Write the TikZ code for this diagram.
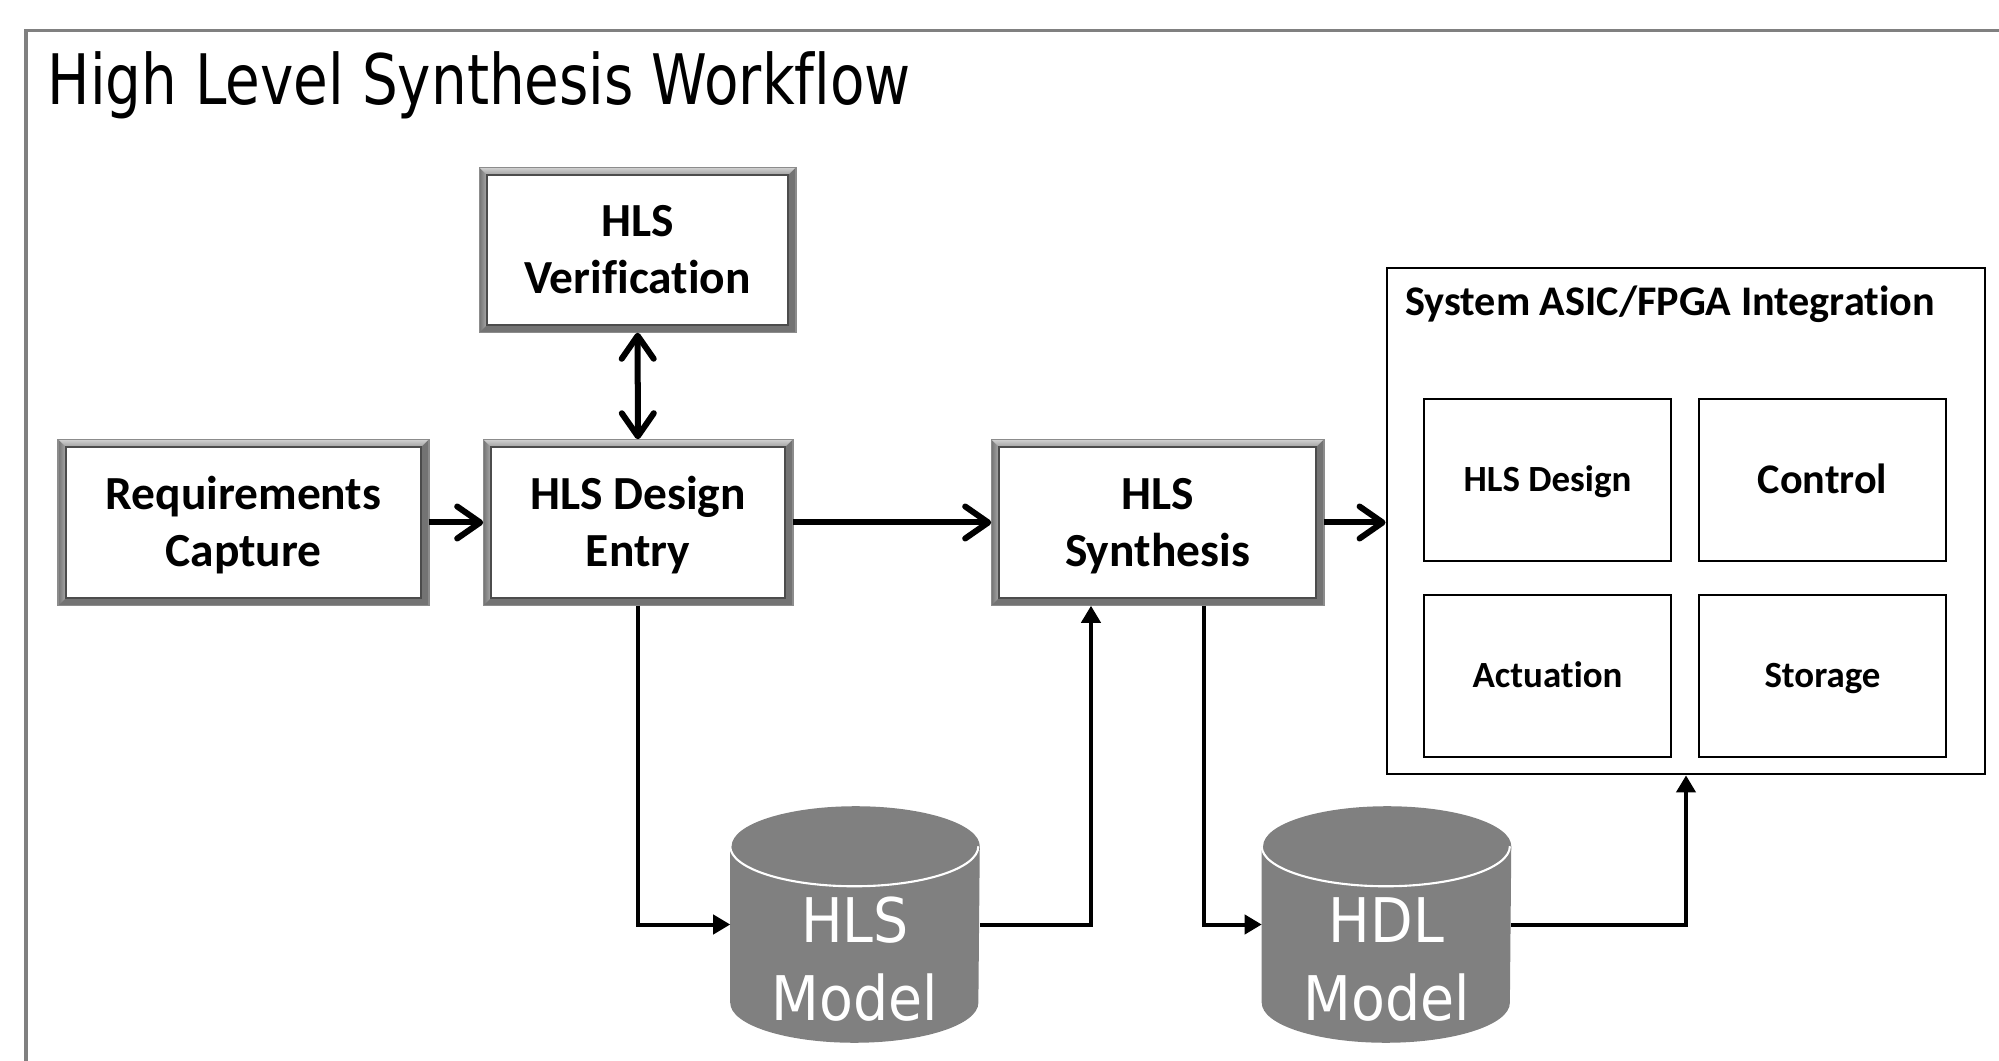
\documentclass[tikz,border=0pt]{standalone}
\usepackage{fontspec}
\setmainfont[Ligatures=NoCommon]{Carlito}
\newfontfamily\titlefont[FakeStretch=0.81, Ligatures=NoCommon]{DejaVu Sans}
\newfontfamily\dbfont[FakeStretch=0.9]{DejaVu Sans}
\usetikzlibrary{arrows.meta,backgrounds,calc}
\def\bev{0.08cm}

\begin{document}
\begin{tikzpicture}[x=0.01cm, y=-0.01cm,
    stage/.style={inner sep=0pt, minimum height=1.65cm, align=center, text height=24.9pt, text depth=0pt,
      font=\bfseries\fontsize{13.5}{16.2}\selectfont},
    part/.style={draw, line width=0.6pt, inner sep=0pt, minimum width=2.47cm, minimum height=1.62cm,
      text height=6.8pt, text depth=0pt, font=\bfseries\fontsize{10.5}{12.6}\selectfont},
    flow/.style={line width=0.06cm, -{Straight Barb[length=2.3mm, width=3.2mm, round]}},
    feed/.style={line width=0.04cm, -{Triangle[length=1.7mm, width=1.9mm]}},
    dbtext/.style={text=white, align=center, inner sep=0pt, text height=35.2pt, text depth=0pt,
      font=\dbfont\fontsize{17.5}{22.4}\selectfont}]
	\useasboundingbox (0,0) rectangle (1999,1061);

	%%%%% FRAME %%%%%
	\draw[black!50, line width=0.03cm] (26,1061) -- (26,31) -- (1999,31);
	\node[anchor=base west, inner sep=0pt, font=\titlefont\fontsize{19.8}{24}\selectfont] (title) at (47,105) {High Level Synthesis Workflow};

	%%%%% STAGES %%%%%
	\node[stage, minimum width=3.69cm] (req) at (243.5,522.5) {Requirements\\Capture};
	\node[stage, minimum width=3.08cm] (entry) at (638,522.5) {HLS Design\\Entry};
	\node[stage, minimum width=3.31cm] (synth) at (1157.5,522.5) {HLS\\Synthesis};
	\node[stage, minimum width=3.15cm, minimum height=1.64cm] (verif) at (637.5,250) {HLS\\Verification};

	% bevelled frames behind the stage texts
	\begin{scope}[on background layer]
		\foreach \b in {req,entry,synth,verif}{
			\fill[black!55] (\b.north west) rectangle (\b.south east);
			\shade[left color=black!55, right color=gray!65] (\b.north west) -- ([shift={(\bev,-\bev)}]\b.north west) -- ([shift={(\bev,\bev)}]\b.south west) -- (\b.south west) -- cycle;
			\shade[top color=gray!35, bottom color=gray!75] (\b.north west) -- (\b.north east) -- ([shift={(-\bev,-\bev)}]\b.north east) -- ([shift={(\bev,-\bev)}]\b.north west) -- cycle;
			\draw[black!45, line width=0.4pt] (\b.north west) rectangle (\b.south east);
			\filldraw[fill=white, draw=black!70, line width=0.5pt] ([shift={(\bev,-\bev)}]\b.north west) rectangle ([shift={(-\bev,\bev)}]\b.south east);
		}
	\end{scope}

	%%%%% INTEGRATION %%%%%
	\node[draw, line width=0.7pt, inner sep=0pt, minimum width=5.98cm, minimum height=5.06cm] (sys) at (1686,521) {};
	\node[anchor=west, inner sep=0pt, font=\bfseries\fontsize{12}{14}\selectfont] (systitle) at ([shift={(0.19cm,-0.38cm)}]sys.north west) {System ASIC/FPGA Integration};
	\node[part] (design) at (1547.5,480) {HLS Design};
	\node[part, text height=7.7pt, font=\bfseries\fontsize{12}{14}\selectfont] (control) at (1822.5,480) {Control};
	\node[part] (actuation) at (1547.5,676) {Actuation};
	\node[part] (storage) at (1822.5,676) {Storage};

	%%%%% MODELS %%%%%
	\foreach \n/\x in {hlsdb/855, hdldb/1386.5}{
		\node[inner sep=0pt, minimum width=2.48cm, minimum height=2.35cm] (\n) at (\x,924.5) {};
		\fill[black!50] ([yshift=-0.4cm]\n.north west) -- ([yshift=0.4cm]\n.south west)
			arc (180:360:1.24cm and 0.4cm) -- ([yshift=-0.4cm]\n.north east)
			arc (0:180:1.24cm and 0.4cm) -- cycle;
		\draw[white, line width=0.6pt] ([yshift=-0.4cm]\n.north west) arc (180:360:1.24cm and 0.4cm);
	}
	\node[dbtext] (hlslbl) at (855,959) {HLS\\Model};
	\node[dbtext] (hdllbl) at (1386.5,959) {HDL\\Model};

	%%%%% CONNECTORS %%%%%
	\draw[flow] (req) -- (entry);
	\draw[flow] (entry) -- (synth);
	\draw[flow] (synth.east) -- (synth.east -| sys.west);
	\draw[flow, {Straight Barb[length=2.3mm, width=3.2mm, round]}-{Straight Barb[length=2.3mm, width=3.2mm, round]}] (verif) -- (entry);

	\draw[feed] (entry.south) |- (hlsdb.west);
	\draw[feed] (hlsdb.east) -| ($(synth.south west)!0.3!(synth.south east)$);
	\draw[feed] ($(synth.south west)!0.64!(synth.south east)$) |- (hdldb.west);
	\draw[feed] (hdldb.east) -| (sys.south);

\end{tikzpicture}
\end{document}
